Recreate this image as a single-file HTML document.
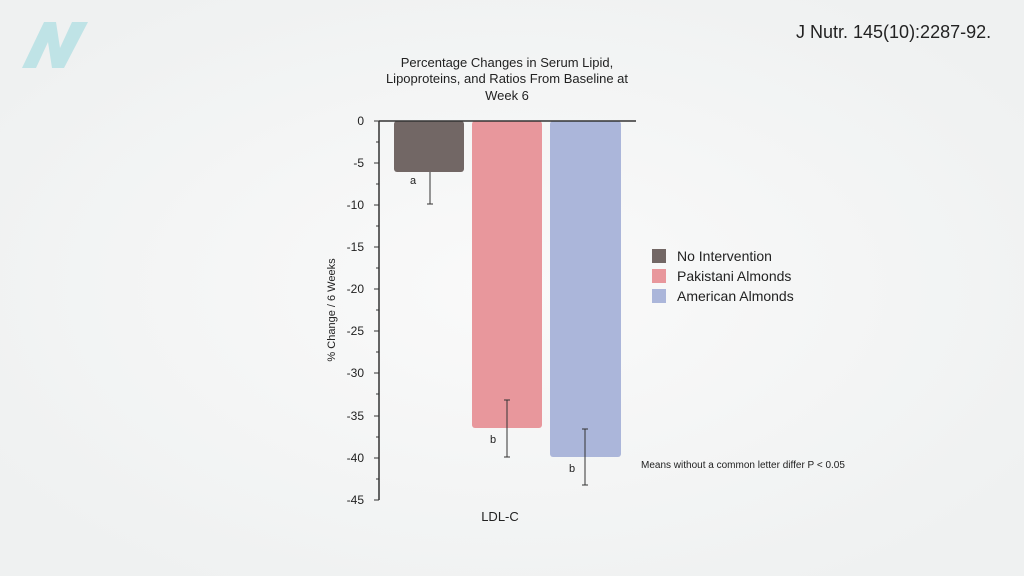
<!DOCTYPE html><html><head><style>
body{margin:0;width:1024px;height:576px;background:#f4f5f5;overflow:hidden;font-family:"Liberation Sans",sans-serif;position:relative}
.t{position:absolute;color:#222;white-space:nowrap}
</style></head><body>
<svg width="1024" height="576" style="position:absolute;left:0;top:0" font-family="Liberation Sans, sans-serif">
<defs><radialGradient id="g" cx="0.5" cy="0.5" r="0.6"><stop offset="0" stop-color="#fafafa"/><stop offset="1" stop-color="#eff1f1"/></radialGradient></defs>
<rect width="1024" height="576" fill="url(#g)"/>
<path d="M22 68 L44 22 L56 22 L60 48 L72 22 L88 22 L64 68 L52 68 L48 42 L36 68Z" fill="#bfe3e6"/>
<text x="796" y="38" font-size="18" fill="#222">J Nutr. 145(10):2287-92.</text>
<text x="507" y="67" font-size="13" fill="#222" text-anchor="middle">Percentage Changes in Serum Lipid,</text>
<text x="507" y="83" font-size="13" fill="#222" text-anchor="middle">Lipoproteins, and Ratios From Baseline at</text>
<text x="507" y="100" font-size="13" fill="#222" text-anchor="middle">Week 6</text>
<rect x="394" y="121" width="70" height="51" rx="3" fill="#726765"/>
<rect x="472" y="121" width="70" height="307" rx="3" fill="#e8979c"/>
<rect x="550" y="121" width="71" height="336" rx="3" fill="#abb6da"/>
<line x1="379" y1="121" x2="636" y2="121" stroke="#333" stroke-width="1.5"/>
<line x1="379" y1="121" x2="379" y2="500" stroke="#333" stroke-width="1.5"/>
<g stroke="#333" stroke-width="1">
<line x1="374" y1="121" x2="379" y2="121"/><line x1="374" y1="163" x2="379" y2="163"/><line x1="374" y1="205" x2="379" y2="205"/><line x1="374" y1="247" x2="379" y2="247"/><line x1="374" y1="289" x2="379" y2="289"/><line x1="374" y1="331" x2="379" y2="331"/><line x1="374" y1="373" x2="379" y2="373"/><line x1="374" y1="416" x2="379" y2="416"/><line x1="374" y1="458" x2="379" y2="458"/><line x1="374" y1="500" x2="379" y2="500"/>
<line x1="376" y1="142" x2="379" y2="142"/><line x1="376" y1="184" x2="379" y2="184"/><line x1="376" y1="226" x2="379" y2="226"/><line x1="376" y1="268" x2="379" y2="268"/><line x1="376" y1="310" x2="379" y2="310"/><line x1="376" y1="352" x2="379" y2="352"/><line x1="376" y1="394" x2="379" y2="394"/><line x1="376" y1="437" x2="379" y2="437"/><line x1="376" y1="479" x2="379" y2="479"/>
<line x1="430" y1="172" x2="430" y2="204"/><line x1="427" y1="204" x2="433" y2="204"/>
<line x1="507" y1="400" x2="507" y2="457"/><line x1="504" y1="400" x2="510" y2="400"/><line x1="504" y1="457" x2="510" y2="457"/>
<line x1="585" y1="429" x2="585" y2="485"/><line x1="582" y1="429" x2="588" y2="429"/><line x1="582" y1="485" x2="588" y2="485"/>
</g>
<g font-size="12" fill="#222" text-anchor="end">
<text x="364" y="125">0</text><text x="364" y="167">-5</text><text x="364" y="209">-10</text><text x="364" y="251">-15</text><text x="364" y="293">-20</text><text x="364" y="335">-25</text><text x="364" y="377">-30</text><text x="364" y="420">-35</text><text x="364" y="462">-40</text><text x="364" y="504">-45</text>
</g>
<text transform="translate(335,310) rotate(-90)" font-size="11" fill="#222" text-anchor="middle">% Change / 6 Weeks</text>
<g font-size="11" fill="#222"><text x="410" y="184">a</text><text x="490" y="443">b</text><text x="569" y="472">b</text></g>
<text x="500" y="521" font-size="13" fill="#222" text-anchor="middle">LDL-C</text>
<rect x="652" y="249" width="14" height="14" fill="#726765"/>
<rect x="652" y="269" width="14" height="14" fill="#e8979c"/>
<rect x="652" y="289" width="14" height="14" fill="#abb6da"/>
<g font-size="14" fill="#222"><text x="677" y="261">No Intervention</text><text x="677" y="281">Pakistani Almonds</text><text x="677" y="301">American Almonds</text></g>
<text x="641" y="468" font-size="10" fill="#222">Means without a common letter differ P &lt; 0.05</text>
</svg>
</body></html>
